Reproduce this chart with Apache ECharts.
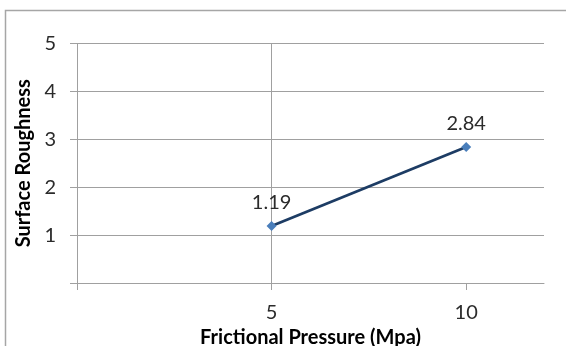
<!DOCTYPE html>
<html>
<head>
<meta charset="utf-8">
<style>
  html, body { margin: 0; padding: 0; background: #fff; }
  #chart { width: 566px; height: 346px; }
</style>
<script src="https://cdn.jsdelivr.net/npm/echarts@6/dist/echarts.min.js"></script>
</head>
<body>
<div id="chart"></div>
<script>
// Frictional pressure (MPa) vs. surface roughness
const pressure = [5, 10];
const roughness = [1.19, 2.84];
const xTicks = [5, 10];
const yTicks = [1, 2, 3, 4, 5];

const FONT = 'Lato, "Open Sans", sans-serif';
const chart = echarts.init(document.getElementById('chart'), null, { renderer: 'canvas' });

chart.setOption({
  animation: false,
  backgroundColor: '#fff',
  graphic: [{
    type: 'rect',
    shape: { x: 5.5, y: 10.5, width: 700, height: 500 },
    style: { fill: 'none', stroke: '#a6a6a6', lineWidth: 1.5 },
    silent: true
  }],
  grid: { left: 77, right: 22, top: 43.5, bottom: 63, outerBoundsMode: 'none', containLabel: false },
  xAxis: {
    type: 'value',
    min: 0, max: 12, interval: 5,
    name: 'Frictional Pressure (Mpa)',
    nameLocation: 'middle',
    nameGap: 38,
    nameTextStyle: { fontFamily: FONT, fontWeight: 'bold', fontSize: 20, color: '#000' },
    axisLine: { show: true, lineStyle: { color: '#a0a0a0', width: 1 } },
    axisTick: { show: true, length: 7, lineStyle: { color: '#a0a0a0' },
      customValues: [0].concat(xTicks) },
    axisLabel: {
      fontFamily: FONT, fontSize: 20, color: '#2b2b2b', margin: 20,
      customValues: xTicks
    },
    splitLine: { show: true, showMinLine: false, showMaxLine: false,
      lineStyle: { color: '#a0a0a0', width: 1 } }
  },
  yAxis: {
    type: 'value',
    min: 0, max: 5, interval: 1,
    name: 'Surface Roughness',
    nameLocation: 'middle',
    nameGap: 42,
    nameTextStyle: { fontFamily: FONT, fontWeight: 'bold', fontSize: 20, color: '#000' },
    axisLine: { show: true, lineStyle: { color: '#a0a0a0', width: 1 } },
    axisTick: { show: true, length: 7, lineStyle: { color: '#a0a0a0' } },
    axisLabel: {
      fontFamily: FONT, fontSize: 20, color: '#2b2b2b', margin: 21,
      customValues: yTicks
    },
    splitLine: { show: true, lineStyle: { color: '#a0a0a0', width: 1 } }
  },
  series: [{
    type: 'line',
    data: pressure.map((p, i) => [p, roughness[i]]),
    symbol: 'diamond',
    symbolSize: 10,
    lineStyle: { color: '#1d3c64', width: 2.8 },
    itemStyle: { color: '#4a7ebb' },
    label: {
      show: true,
      position: 'top',
      distance: 8,
      fontFamily: FONT,
      fontSize: 20,
      color: '#2b2b2b',
      formatter: p => p.value[1].toFixed(2)
    }
  }]
});
</script>
</body>
</html>
